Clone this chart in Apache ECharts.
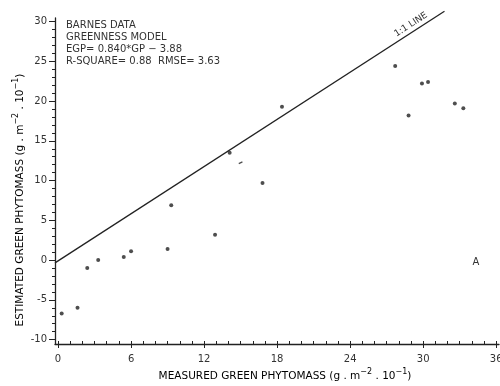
<!DOCTYPE html>
<html><head><meta charset="utf-8">
<script src="https://cdn.jsdelivr.net/npm/echarts@6/dist/echarts.min.js"></script>
<style>html,body{margin:0;padding:0;background:#fff}#c{width:500px;height:386px}</style>
</head><body><div id="c"></div>
<script>
// Data
const measured  = [0.3, 1.6, 2.4, 3.3, 5.4, 6.0, 9.0, 9.3, 12.9, 14.1, 16.8, 18.4, 27.7, 28.8, 29.9, 30.4, 32.6, 33.3];
const estimated = [-6.7, -6.0, -1.0, 0.0, 0.4, 1.1, 1.4, 6.9, 3.2, 13.5, 9.7, 19.3, 24.4, 18.2, 22.2, 22.4, 19.7, 19.1];
const dashX = [15.0];
const dashY = [12.25];
const oneLineX = [-0.25, 31.75];
const oneLineY = [-0.35, 31.3];
const oneLineLabelAt = 29.3;
const xTickLabels = [0, 6, 12, 18, 24, 30, 36];
const yTickLabels = [-10, -5, 0, 5, 10, 15, 20, 25, 30];
const xMinorTicks = [];
for (let v = 0; v <= 36; v++) xMinorTicks.push(v);
const yMinorTicks = [];
for (let v = -10; v <= 30; v++) yMinorTicks.push(v);
const infoLines = ['BARNES DATA', 'GREENNESS MODEL', 'EGP= 0.840*GP \u2212 3.88', 'R-SQUARE= 0.88  RMSE= 3.63'];

const X_MIN = -0.25, X_MAX = 36.23, Y_MIN = -10.55, Y_MAX = 30.45;
const ink = '#222';
const font = 'DejaVu Sans';

const chart = echarts.init(document.getElementById('c'), null, {renderer: 'canvas'});
const rich = {
  n: {fontSize: 10.5, fontFamily: font, color: '#333'},
  s: {fontSize: 8, fontFamily: font, color: '#333', padding: [0, 0, 9, 0]}
};
const axisBase = {min: X_MIN, max: X_MAX, type: 'value', splitLine: {show: false}};
chart.setOption({
  animation: false,
  backgroundColor: '#fff',
  grid: {left: 55, right: 1, top: 18, bottom: 42, containLabel: false, outerBoundsMode: 'none'},
  xAxis: [
    Object.assign({}, axisBase, {
      axisLine: {show: true, onZero: false, lineStyle: {color: ink, width: 1.3}},
      axisTick: {show: true, customValues: xTickLabels, length: 4, lineStyle: {color: ink}},
      axisLabel: {show: true, customValues: xTickLabels, margin: 10, color: '#333', fontSize: 10, fontFamily: font}
    }),
    Object.assign({}, axisBase, {
      position: 'bottom',
      axisLine: {show: false, onZero: false},
      axisTick: {show: true, inside: true, customValues: xMinorTicks, length: 3, lineStyle: {color: ink, width: 1}},
      axisLabel: {show: false, customValues: xMinorTicks}
    })
  ],
  yAxis: [
    {
      type: 'value', min: Y_MIN, max: Y_MAX, splitLine: {show: false},
      axisLine: {show: true, onZero: false, lineStyle: {color: ink, width: 1.3}},
      axisTick: {show: true, customValues: yTickLabels, length: 6, lineStyle: {color: ink}},
      axisLabel: {show: true, customValues: yTickLabels, margin: 8, color: '#333', fontSize: 10, fontFamily: font}
    },
    {
      type: 'value', min: Y_MIN, max: Y_MAX, position: 'left', splitLine: {show: false},
      axisLine: {show: false, onZero: false},
      axisTick: {show: true, customValues: yMinorTicks, length: 3, lineStyle: {color: ink, width: 1}},
      axisLabel: {show: false, customValues: yMinorTicks}
    }
  ],
  series: [
    {
      type: 'line', clip: false, symbol: 'none', silent: true,
      data: oneLineX.map((x, i) => [x, oneLineY[i]]),
      lineStyle: {color: ink, width: 1.3}
    },
    {
      type: 'scatter', symbol: 'circle', symbolSize: 4,
      itemStyle: {color: ink},
      data: measured.map((x, i) => [x, estimated[i]])
    },
    {
      type: 'scatter', symbol: 'rect', symbolSize: [4, 1.3], symbolRotate: 25,
      itemStyle: {color: ink},
      data: dashX.map((x, i) => [x, dashY[i]])
    }
  ],
  graphic: [
    {type: 'text', left: 66, top: 19, style: {text: infoLines.join('\n'), font: '10px "' + font + '"', fill: '#333', lineHeight: 12}},
    {type: 'text', x: 476, y: 262, style: {text: 'A', font: '10px "' + font + '"', fill: '#333', align: 'center', verticalAlign: 'middle'}},
    {type: 'text', x: 285, y: 376, style: {
      text: '{n|MEASURED GREEN PHYTOMASS (g . m}{s|\u22122}{n| . 10}{s|\u22121}{n|)}',
      rich: rich, align: 'center', verticalAlign: 'middle'}},
    {type: 'text', x: 20, y: 200, rotation: Math.PI / 2, style: {
      text: '{n|ESTIMATED GREEN PHYTOMASS (g . m}{s|\u22122}{n| . 10}{s|\u22121}{n|)}',
      rich: rich, align: 'center', verticalAlign: 'middle'}}
  ]
});

// Label along the 1:1 line, placed via the chart's own scales
const p1 = chart.convertToPixel({gridIndex: 0}, [oneLineX[0], oneLineY[0]]);
const p2 = chart.convertToPixel({gridIndex: 0}, [oneLineX[1], oneLineY[1]]);
const ang = Math.atan2(p2[1] - p1[1], p2[0] - p1[0]);
const t = (oneLineLabelAt - oneLineX[0]) / (oneLineX[1] - oneLineX[0]);
const lx = p1[0] + t * (p2[0] - p1[0]);
const ly = p1[1] + t * (p2[1] - p1[1]);
const off = 7;
chart.setOption({
  graphic: [{
    id: 'oneLineLabel', type: 'text',
    x: lx + off * Math.sin(ang), y: ly - off * Math.cos(ang),
    rotation: -ang,
    style: {text: '1:1 LINE', font: '9px "' + font + '"', fill: '#333', align: 'center', verticalAlign: 'middle'}
  }]
});
</script>
</body></html>
